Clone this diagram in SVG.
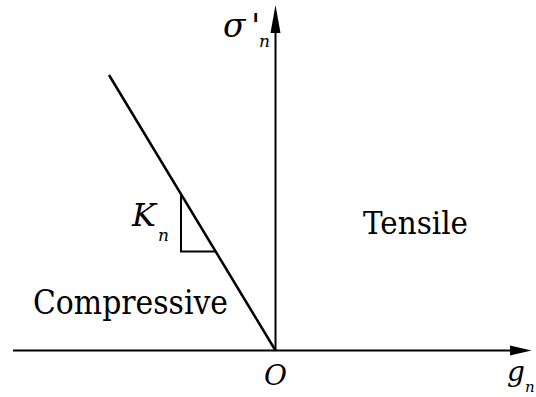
<svg xmlns="http://www.w3.org/2000/svg" width="536" height="397" viewBox="0 0 536 397">
<style>
text{font-family:"DejaVu Serif",serif;fill:#000}
.i{font-style:italic}
.ln{stroke:#000;fill:none}
</style>
<rect width="536" height="397" fill="#fff"/>
<g id="connectors">
<line class="ln" x1="13" y1="350.5" x2="512" y2="350.5" stroke-width="2"/>
<polygon points="531.5,350.5 510,345.5 510,355.5" fill="#000"/>
<line class="ln" x1="275.5" y1="350.5" x2="275.5" y2="30" stroke-width="2"/>
<polygon points="275.5,5 270.5,33 280.5,33" fill="#000"/>
<line class="ln" x1="109" y1="75" x2="275.5" y2="350.5" stroke-width="2.5"/>
<polyline class="ln" points="181,195 181,251.5 215,251.5" stroke-width="2"/>
</g>
<g id="label-sigma">
<text class="i" x="223" y="37" font-size="33">σ</text>
<text x="251" y="38" font-size="34">'</text>
<text class="i" x="259" y="47" font-size="17">n</text>
</g>
<g id="label-K">
<text class="i" x="132" y="226" font-size="32">K</text>
<text class="i" x="158" y="241" font-size="17">n</text>
</g>
<g id="label-tensile"><text x="363" y="234" font-size="31" textLength="105" lengthAdjust="spacingAndGlyphs">Tensile</text></g>
<g id="label-compressive"><text x="33" y="314" font-size="34" textLength="195" lengthAdjust="spacingAndGlyphs">Compressive</text></g>
<g id="label-O"><text class="i" x="264" y="385" font-size="28">O</text></g>
<g id="label-g">
<text class="i" x="507" y="381" font-size="28">g</text>
<text class="i" x="525" y="392" font-size="15">n</text>
</g>
</svg>
